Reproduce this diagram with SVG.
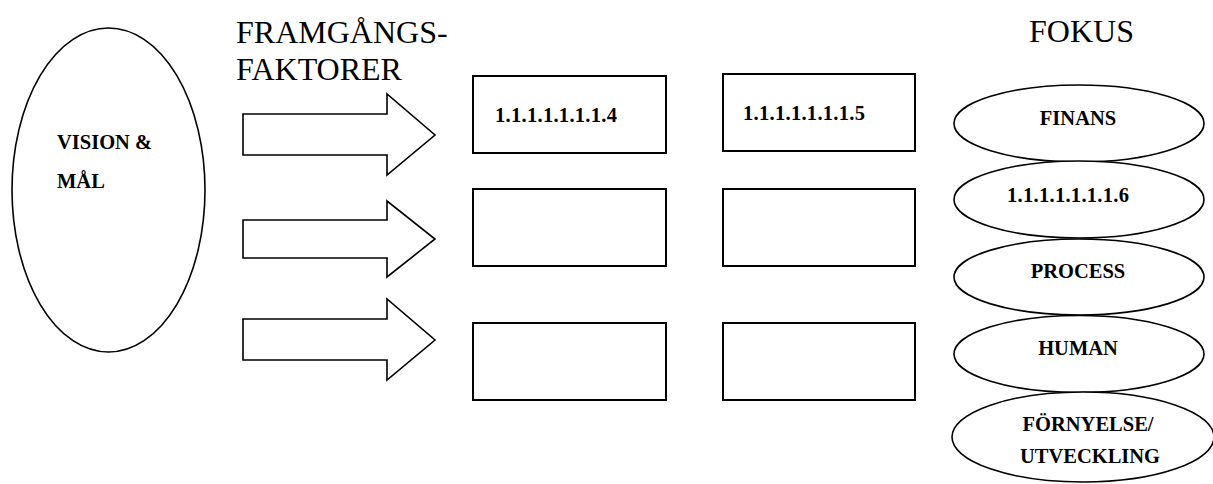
<svg xmlns="http://www.w3.org/2000/svg" width="1213" height="484" viewBox="0 0 1213 484">
<style>
.shape{fill:#fff;stroke:#000;stroke-width:1.6}
.box{fill:#fff;stroke:#000;stroke-width:2}
text{font-family:'Liberation Serif','Times New Roman',Times,'DejaVu Serif',serif;fill:#000}
.big{font-size:32px}
.lbl{font-size:20.5px;font-weight:bold}
.c{text-anchor:middle}
</style>
<rect width="1213" height="484" fill="#fff"/>
<g id="vision">
<ellipse class="shape" cx="108.5" cy="190" rx="96.5" ry="162"/>
<text class="lbl" x="57" y="149">VISION &amp;</text>
<text class="lbl" x="57" y="188">MÅL</text>
</g>
<g id="title-framgang">
<text class="big" x="236" y="43">FRAMGÅNGS-</text>
<text class="big" x="236" y="80">FAKTORER</text>
</g>
<g id="title-fokus">
<text class="big" x="1029" y="42">FOKUS</text>
</g>
<g id="connectors">
<polygon class="shape" points="243,114 387,114 387,94 435,135 387,175 387,155 243,155"/>
<polygon class="shape" points="243,220 387,220 387,201 435,239 387,277 387,258 243,258"/>
<polygon class="shape" points="243,319 387,319 387,299 435,340 387,380 387,360 243,360"/>
</g>
<g id="box-1-1">
<rect class="box" x="473" y="76" width="193" height="77"/>
<text class="lbl" x="495" y="122" textLength="122">1.1.1.1.1.1.1.4</text>
</g>
<g id="box-1-2">
<rect class="box" x="723" y="74" width="192" height="77"/>
<text class="lbl" x="743" y="120" textLength="122">1.1.1.1.1.1.1.5</text>
</g>
<g id="box-2-1"><rect class="box" x="473" y="189" width="193" height="77"/></g>
<g id="box-2-2"><rect class="box" x="723" y="189" width="192" height="77"/></g>
<g id="box-3-1"><rect class="box" x="473" y="323" width="193" height="77"/></g>
<g id="box-3-2"><rect class="box" x="723" y="323" width="192" height="77"/></g>
<g id="finans">
<ellipse class="shape" cx="1079" cy="123.5" rx="125" ry="38.5"/>
<text class="lbl c" x="1078" y="125">FINANS</text>
</g>
<g id="fokus-2">
<ellipse class="shape" cx="1079" cy="199.5" rx="125" ry="38.5"/>
<text class="lbl c" x="1068" y="202" textLength="122">1.1.1.1.1.1.1.6</text>
</g>
<g id="process">
<ellipse class="shape" cx="1079" cy="277" rx="125" ry="38"/>
<text class="lbl c" x="1078" y="278">PROCESS</text>
</g>
<g id="human">
<ellipse class="shape" cx="1079" cy="354" rx="125" ry="38.5"/>
<text class="lbl c" x="1078" y="355">HUMAN</text>
</g>
<g id="fornyelse">
<ellipse class="shape" cx="1083" cy="437" rx="131" ry="45"/>
<text class="lbl c" x="1088" y="431">FÖRNYELSE/</text>
<text class="lbl c" x="1090" y="463">UTVECKLING</text>
</g>
</svg>
